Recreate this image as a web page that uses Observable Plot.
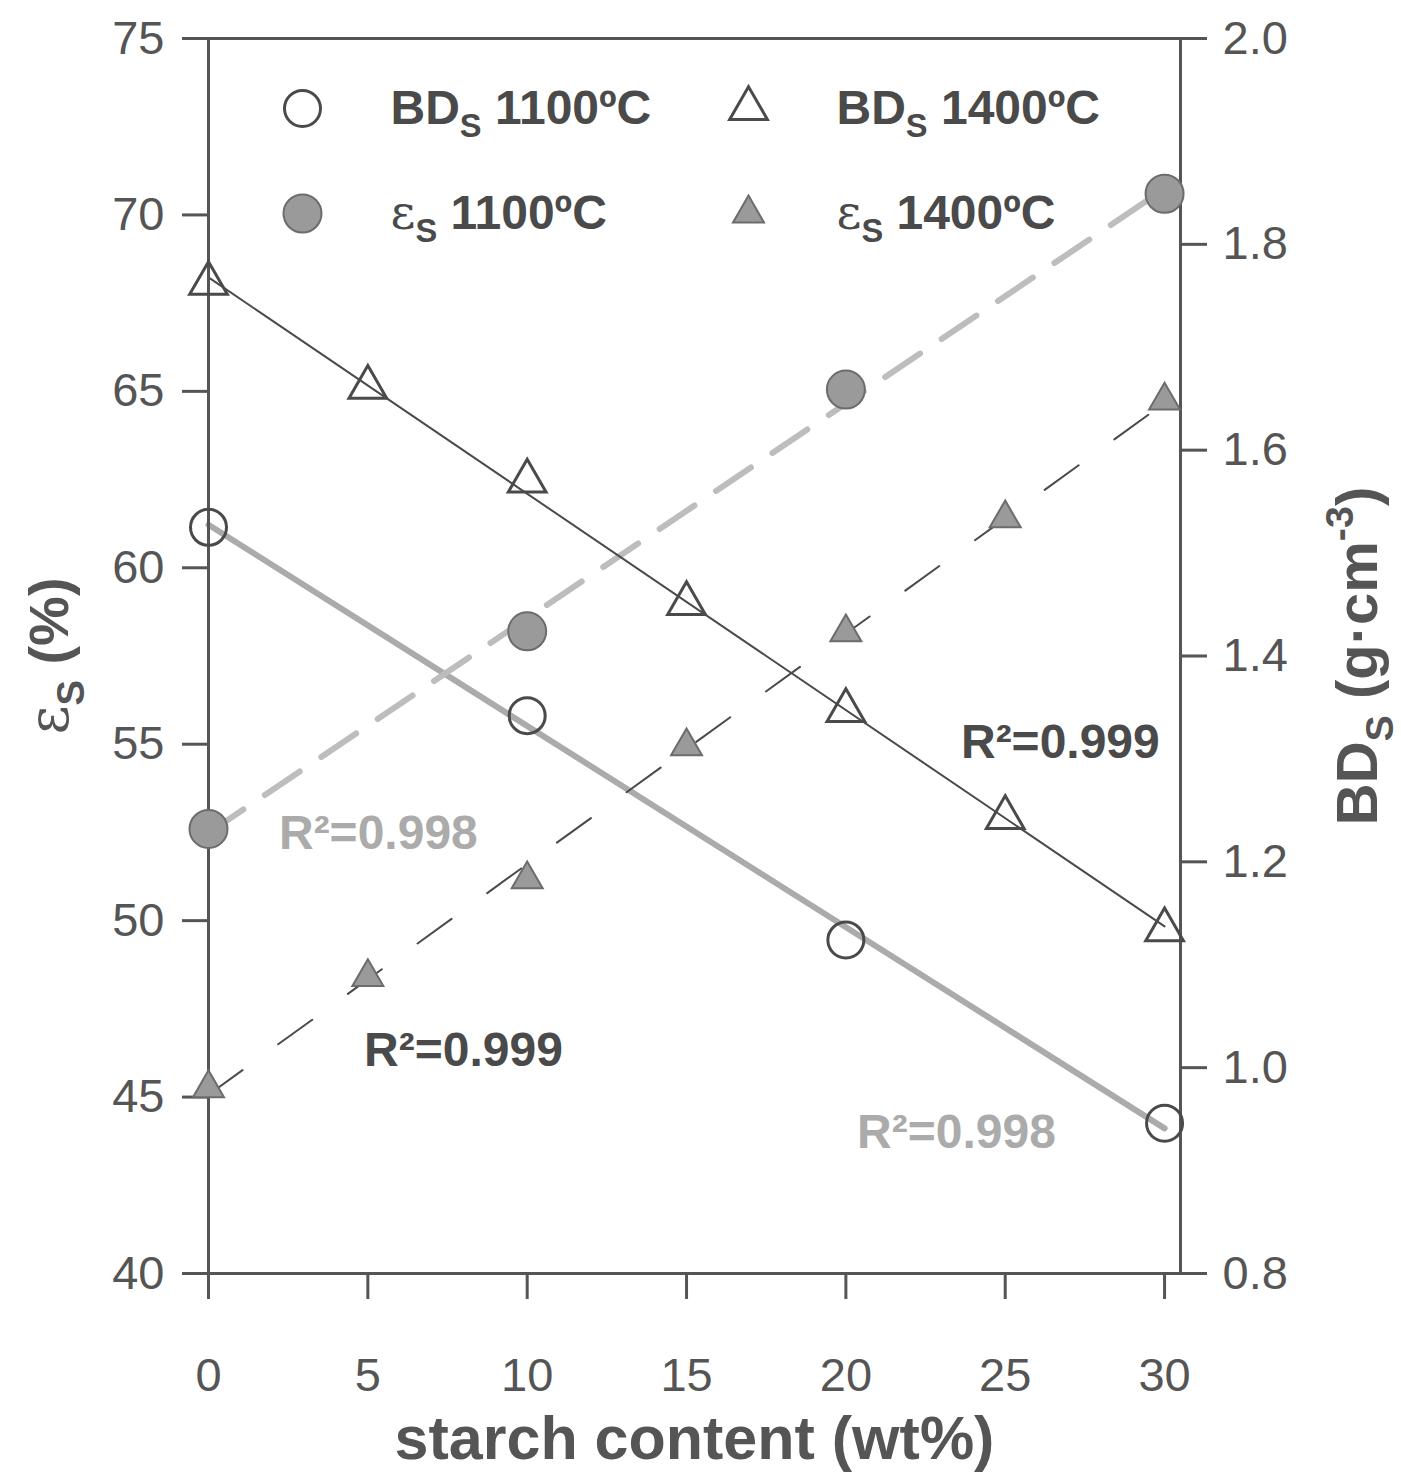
<!DOCTYPE html>
<html>
<head>
<meta charset="utf-8">
<script src="https://cdn.jsdelivr.net/npm/d3@7"></script>
<script src="https://cdn.jsdelivr.net/npm/@observablehq/plot@0.6"></script>
<style>
  html, body { margin: 0; padding: 0; background: #fff; }
  #chart svg { display: block; }
</style>
</head>
<body>
<div id="chart"></div>
<script>
// ---- data ----
const starch1100 = [0, 10, 20, 30];
const bd1100 = [1.525, 1.342, 1.124, 0.946];        // g·cm-3 (right axis)
const eps1100 = [52.6, 58.2, 65.05, 70.6];          // % (left axis)

const starch1400 = [0, 5, 10, 15, 20, 25, 30];
const bd1400 = [1.762, 1.661, 1.570, 1.451, 1.347, 1.243, 1.134];
const eps1400 = [45.25, 48.4, 51.17, 54.94, 58.17, 61.4, 64.74];

const xTicks = [0, 5, 10, 15, 20, 25, 30];
const leftTicks = [40, 45, 50, 55, 60, 65, 70, 75];
const rightTicks = [0.8, 1.0, 1.2, 1.4, 1.6, 1.8, 2.0];

const legendLabels = ["BD_{S} 1100ºC", "BD_{S} 1400ºC", "~{ε}_{S} 1100ºC", "~{ε}_{S} 1400ºC"];
const r2Labels = [
  {x: 26.73, y: 55.05, text: "R²=0.999", dark: true},
  {x: 5.33, y: 52.47, text: "R²=0.998", dark: false},
  {x: 8.0, y: 46.32, text: "R²=0.999", dark: true},
  {x: 23.47, y: 44.0, text: "R²=0.998", dark: false}
];

// ---- dual axis mapping: BD (0.8..2.0) onto eps (40..75) ----
const toLeft = bd => 40 + (bd - 0.8) / 1.2 * 35;
const fromLeft = e => 0.8 + (e - 40) / 35 * 1.2;

const d1100 = starch1100.map((x, i) => ({x, bd: toLeft(bd1100[i]), eps: eps1100[i]}));
const d1400 = starch1400.map((x, i) => ({x, bd: toLeft(bd1400[i]), eps: eps1400[i]}));

const DARK = "#4a4a4a";
const LIGHT = "#ababab";
const FILL = "#9a9a9a";
const FILLSTROKE = "#6c6c6c";

const mL = 208, mR = 221, mT = 38, mB = 201;

// legend marks
const legendMarks = [];
const legendSpec = [
  {label: legendLabels[0], symbol: "circle", fill: "none", stroke: DARK, r: 18, sw: 3, col: 0, row: 0},
  {label: legendLabels[1], symbol: "triangle", fill: "none", stroke: DARK, r: 14, sw: 3, col: 1, row: 0},
  {label: legendLabels[2], symbol: "circle", fill: FILL, stroke: FILLSTROKE, r: 19, sw: 2, col: 0, row: 1},
  {label: legendLabels[3], symbol: "triangle", fill: FILL, stroke: FILLSTROKE, r: 11.5, sw: 2, col: 1, row: 1}
];
for (const s of legendSpec) {
  const dx0 = s.col === 0 ? 94 : 540;
  const dy0 = s.row === 0 ? 70 : 175;
  legendMarks.push(Plot.dot([0], {frameAnchor: "top-left", dx: dx0, dy: dy0, symbol: s.symbol, r: s.r, fill: s.fill, stroke: s.stroke, strokeWidth: s.sw}));
  legendMarks.push(Plot.text([s.label], {text: d => d, frameAnchor: "top-left", dx: dx0 + 88, dy: dy0, textAnchor: "start", lineAnchor: "middle", fontSize: 48, fontWeight: "bold", fill: DARK}));
}

const chart = Plot.plot({
  width: 1401,
  height: 1474,
  marginLeft: mL,
  marginRight: mR,
  marginTop: mT,
  marginBottom: mB,
  style: {fontFamily: "'Liberation Sans', Arial, sans-serif", color: "#555", background: "#fff"},
  x: {domain: [0, 30.5]},
  y: {domain: [40, 75]},
  marks: [
    // regression lines
    Plot.linearRegressionY(d1100, {x: "x", y: "bd", stroke: LIGHT, strokeWidth: 6, ci: 0}),
    Plot.linearRegressionY(d1100, {x: "x", y: "eps", stroke: "#bdbdbd", strokeWidth: 6, strokeDasharray: "42,26", ci: 0}),
    Plot.linearRegressionY(d1400, {x: "x", y: "bd", stroke: DARK, strokeWidth: 2, ci: 0}),
    Plot.linearRegressionY(d1400, {x: "x", y: "eps", stroke: DARK, strokeWidth: 2, strokeDasharray: "42,44", ci: 0}),
    // frame + axes
    Plot.frame({stroke: "#555", strokeWidth: 3}),
    Plot.axisX(xTicks, {tickSize: 26, tickPadding: 58, fontSize: 47, label: null, strokeWidth: 3, stroke: "#555"}),
    Plot.axisY(leftTicks, {anchor: "left", tickSize: 26, tickPadding: 18, fontSize: 47, label: null, strokeWidth: 3, stroke: "#555"}),
    Plot.axisY(rightTicks.map(toLeft), {anchor: "right", tickSize: 26, tickPadding: 16, fontSize: 47, label: null, strokeWidth: 3, stroke: "#555", tickFormat: d => fromLeft(d).toFixed(1)}),
    // points
    Plot.dot(d1100, {x: "x", y: "eps", symbol: "circle", r: 19, fill: FILL, stroke: FILLSTROKE, strokeWidth: 2}),
    Plot.dot(d1400, {x: "x", y: "eps", symbol: "triangle", r: 11.5, fill: FILL, stroke: FILLSTROKE, strokeWidth: 2}),
    Plot.dot(d1100, {x: "x", y: "bd", symbol: "circle", r: 18, fill: "none", stroke: DARK, strokeWidth: 3}),
    Plot.dot(d1400, {x: "x", y: "bd", symbol: "triangle", r: 14, fill: "none", stroke: DARK, strokeWidth: 3}),
    // R² annotations
    Plot.text(r2Labels, {x: "x", y: "y", text: "text", fill: d => d.dark ? DARK : LIGHT, fontSize: 48, fontWeight: "bold", textAnchor: "middle", lineAnchor: "middle"}),
    // axis titles
    Plot.text(["~{ε}_{S} (%)"], {text: d => d, frameAnchor: "left", dx: -158, rotate: -90, fontSize: 56, fontWeight: "bold", fill: "#555", textAnchor: "middle", lineAnchor: "middle"}),
    Plot.text(["BD_{S} (g·cm^{-3})"], {text: d => d, frameAnchor: "right", dx: 178, rotate: -90, fontSize: 58, fontWeight: "bold", fill: "#555", textAnchor: "middle", lineAnchor: "middle"}),
    Plot.text(["starch content (wt%)"], {text: d => d, frameAnchor: "bottom", dy: 166, fontSize: 61, fontWeight: "bold", fill: "#555", textAnchor: "middle", lineAnchor: "middle"}),
    ...legendMarks
  ]
});

// rich-text post-processing: _{sub}, ^{sup}, ~{light serif}
function richify(svg) {
  const re = /([_^~])\{([^}]*)\}|([^_^~]+)/g;
  svg.querySelectorAll("text").forEach(t => {
    const s = t.textContent;
    if (!/[_^~]\{/.test(s)) return;
    while (t.firstChild) t.removeChild(t.firstChild);
    let m, shift = 0; // current baseline shift in parent em
    const NS = "http://www.w3.org/2000/svg";
    while ((m = re.exec(s))) {
      const ts = document.createElementNS(NS, "tspan");
      if (m[1] === "_" || m[1] === "^") {
        const target = m[1] === "_" ? 0.28 : -0.42;
        ts.setAttribute("font-size", "68%");
        ts.setAttribute("dy", ((target - shift) / 0.68).toFixed(3) + "em");
        shift = target;
        ts.textContent = m[2];
      } else {
        if (shift !== 0) { ts.setAttribute("dy", (-shift).toFixed(3) + "em"); shift = 0; }
        if (m[1] === "~") {
          ts.setAttribute("font-weight", "normal");
          ts.setAttribute("font-family", "'DejaVu Serif', serif");
          ts.textContent = m[2];
        } else {
          ts.textContent = m[3];
        }
      }
      t.appendChild(ts);
    }
  });
}
richify(chart);
document.getElementById("chart").appendChild(chart);
</script>
</body>
</html>
